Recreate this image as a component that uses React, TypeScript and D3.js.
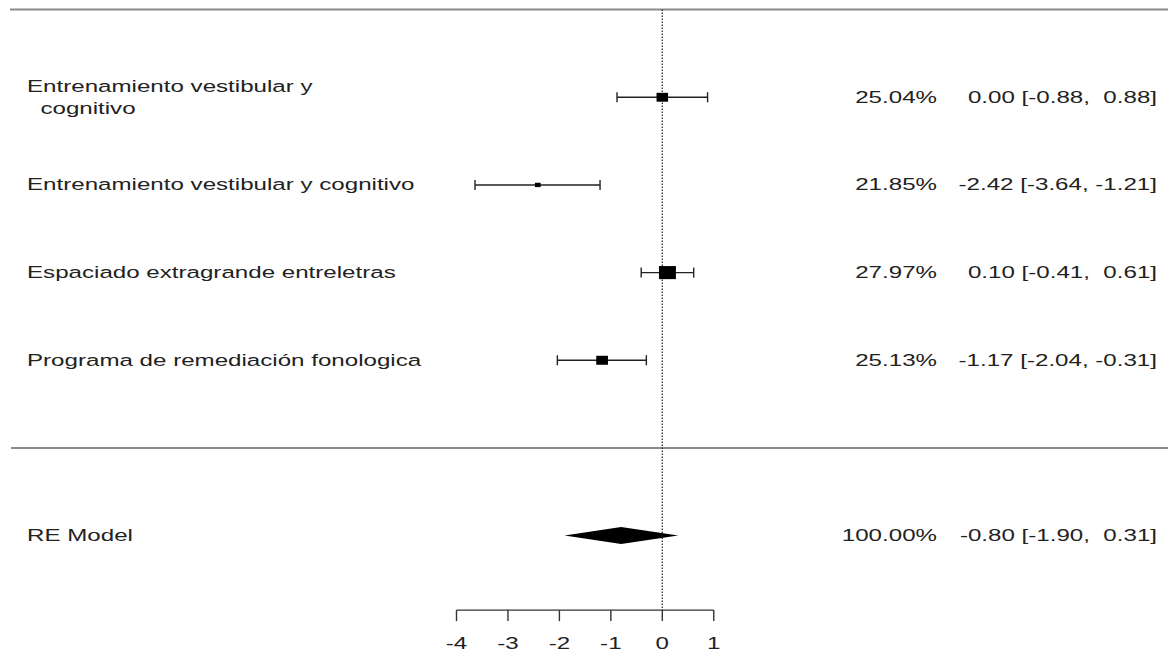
import React from "react";
import * as d3 from "d3";

// ---------- data ----------
const studyLabels = [
  "Entrenamiento vestibular y\n  cognitivo",
  "Entrenamiento vestibular y cognitivo",
  "Espaciado extragrande entreletras",
  "Programa de remediación fonologica",
];
const estimates = [0.0, -2.42, 0.1, -1.17];
const ciLower = [-0.88, -3.64, -0.41, -2.04];
const ciUpper = [0.88, -1.21, 0.61, -0.31];
const weights = [25.04, 21.85, 27.97, 25.13];

const summaryLabel = "RE Model";
const summaryEstimate = -0.8;
const summaryLower = -1.9;
const summaryUpper = 0.31;
const summaryWeight = 100.0;

const xTicks = [-4, -3, -2, -1, 0, 1];

// ---------- layout ----------
const W = 1168;
const H = 653;
const FONT = "'Liberation Sans', Arial, Helvetica, sans-serif";
const FS = 17;
const SX = 1.42;

const x = d3.scaleLinear().domain([-4, 1]).range([456.5, 713.75]);
// row index: studies k..1, separator at 0, summary at -1
const y = d3.scaleLinear().domain([5, -1]).range([9.6, 535.6]);
const axisRow = -1.85;

const fmt = (v: number) => v.toFixed(2).padStart(5, " ");
const annot = (e: number, l: number, u: number) =>
  `${fmt(e)} [${fmt(l)}, ${fmt(u)}]`;

const wExt = d3.extent(weights) as [number, number];
const psize = d3.scaleLinear().domain(wExt).range([0.5, 1.5]);

function T({
  x: tx,
  y: ty,
  anchor = "start",
  children,
}: {
  x: number;
  y: number;
  anchor?: "start" | "middle" | "end";
  children: React.ReactNode;
}) {
  return (
    <text
      transform={`translate(${tx},${ty}) scale(${SX},1)`}
      textAnchor={anchor}
      fontFamily={FONT}
      fontSize={FS}
      fill="#222"
      style={{ whiteSpace: "pre" }}
    >
      {children}
    </text>
  );
}

export default function App() {
  const k = estimates.length;
  const rows = estimates.map((_, i) => k - i);
  const axisY = y(axisRow);
  const labelX = 27;
  const pctX = 937;
  const estX = 1157;
  const base = 5.5;

  const ys = y(-1);
  const diamond = [
    [x(summaryLower), ys],
    [x(summaryEstimate), ys - 8.5],
    [x(summaryUpper), ys],
    [x(summaryEstimate), ys + 8.5],
  ]
    .map((p) => p.join(","))
    .join(" ");

  return (
    <svg
      width={W}
      height={H}
      style={{ position: "absolute", left: 0, top: 0, background: "#fff" }}
    >
      {/* top and separator lines */}
      <line x1={10} x2={W} y1={y(k + 1)} y2={y(k + 1)} stroke="#8a8a8a" strokeWidth={2} />
      <line x1={11} x2={W} y1={y(0)} y2={y(0)} stroke="#8a8a8a" strokeWidth={2} />

      {/* reference line */}
      <line
        x1={x(0)}
        x2={x(0)}
        y1={y(k + 1)}
        y2={axisY}
        stroke="#333"
        strokeWidth={1.3}
        strokeDasharray="1.3,1.7"
      />

      {/* studies */}
      {rows.map((r, i) => {
        const cy = y(r);
        const lines = studyLabels[i].split("\n");
        const c = psize(weights[i]);
        const sw = 11.3 * c;
        const sh = 8.7 * c;
        const firstBase = cy + base - ((lines.length - 1) * 22) / 2;
        return (
          <g key={i}>
            {lines.map((ln, j) => (
              <T key={j} x={labelX} y={firstBase + j * 22}>
                {ln}
              </T>
            ))}
            <line x1={x(ciLower[i])} x2={x(ciUpper[i])} y1={cy} y2={cy} stroke="#222" strokeWidth={1.4} />
            <line x1={x(ciLower[i])} x2={x(ciLower[i])} y1={cy - 5} y2={cy + 5} stroke="#222" strokeWidth={1.4} />
            <line x1={x(ciUpper[i])} x2={x(ciUpper[i])} y1={cy - 5} y2={cy + 5} stroke="#222" strokeWidth={1.4} />
            <rect x={x(estimates[i]) - sw / 2} y={cy - sh / 2} width={sw} height={sh} fill="#000" />
            <T x={pctX} y={cy + base} anchor="end">
              {`${weights[i].toFixed(2)}%`}
            </T>
            <T x={estX} y={cy + base} anchor="end">
              {annot(estimates[i], ciLower[i], ciUpper[i])}
            </T>
          </g>
        );
      })}

      {/* summary */}
      <T x={labelX} y={ys + base}>
        {summaryLabel}
      </T>
      <polygon points={diamond} fill="#000" />
      <T x={pctX} y={ys + base} anchor="end">
        {`${summaryWeight.toFixed(2)}%`}
      </T>
      <T x={estX} y={ys + base} anchor="end">
        {annot(summaryEstimate, summaryLower, summaryUpper)}
      </T>

      {/* x axis */}
      <line x1={x(xTicks[0])} x2={x(xTicks[xTicks.length - 1])} y1={axisY} y2={axisY} stroke="#333" strokeWidth={1.4} />
      {xTicks.map((t) => (
        <g key={t}>
          <line x1={x(t)} x2={x(t)} y1={axisY} y2={axisY + 11} stroke="#333" strokeWidth={1.4} />
          <T x={x(t)} y={649} anchor="middle">
            {String(t)}
          </T>
        </g>
      ))}
    </svg>
  );
}
